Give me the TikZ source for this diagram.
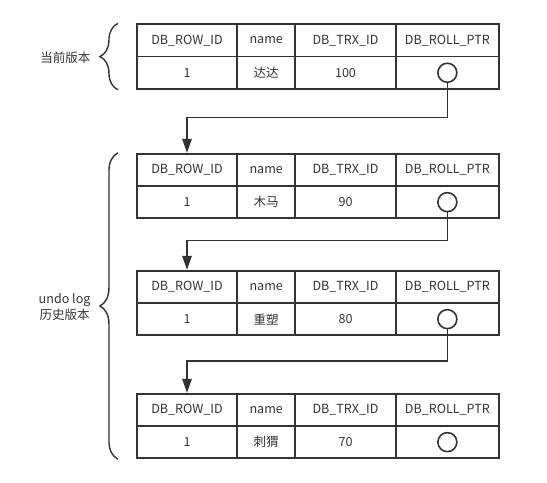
\documentclass[tikz,border=0pt]{standalone}
\usepackage{fontspec}
\setmainfont{Noto Sans CJK SC}
\usetikzlibrary{arrows.meta,decorations.pathreplacing}
\definecolor{ink}{HTML}{333333}
\newcommand{\dbtab}[4]{%
  \node (#11) at (187,#2+16.15) [cell, minimum width=100.3bp] {DB\_ROW\_ID};
  \node (#12) at (266.2,#2+16.15) [cell, minimum width=58.3bp] {name};
  \node (#13) at (345.5,#2+16.15) [cell, minimum width=100.4bp] {DB\_TRX\_ID};
  \node (#14) at (447.35,#2+16.15) [cell, minimum width=103.3bp] {DB\_ROLL\_PTR};
  \node (#15) at (187,#2+48.45) [cell, minimum width=100.3bp] {1};
  \node (#16) at (266.2,#2+48.45) [cell, minimum width=58.3bp] {#3};
  \node (#17) at (345.5,#2+48.45) [cell, minimum width=100.4bp] {#4};
  \node (#18) at (447.35,#2+48.45) [cell, minimum width=103.3bp] {};
  \node (#1P) at (#18) [ptr] {};
}
\tikzset{
  cell/.style={draw=ink, line width=1.8bp, minimum height=32.3bp, inner sep=0pt, text=ink, font=\fontsize{12.6}{14}\selectfont},
  ptr/.style={draw=ink, line width=1.6bp, circle, minimum size=19bp, inner sep=0pt},
  link/.style={draw=ink, line width=1.4bp, -{Triangle[length=14bp,width=9.5bp]}},
  vbrace/.style={draw=ink, line width=1.4bp, decorate, decoration={brace, amplitude=18bp}},
  tag/.style={anchor=east, align=center, text=ink, font=\fontsize{12.6}{16.5}\selectfont}
}
\begin{document}
\begin{tikzpicture}[x=1bp,y=-1bp]
\useasboundingbox (0,0) rectangle (547,483);

\dbtab{A}{24.3}{达达}{100}
\dbtab{B}{153.7}{木马}{90}
\dbtab{C}{270.7}{重塑}{80}
\dbtab{D}{393.7}{刺猬}{70}

\coordinate (K1) at (0,117.7);
\coordinate (K2) at (0,240.7);
\coordinate (K3) at (0,361);

\draw [link] (AP.south) -- (AP.south |- K1) -| (B1.north);
\draw [link] (BP.south) -- (BP.south |- K2) -| (C1.north);
\draw [link] (CP.south) -- (CP.south |- K3) -| (D1.north);

\draw [vbrace] ([xshift=-18bp]A5.south west) -- ([xshift=-18bp]A1.north west);
\draw [vbrace] ([xshift=-18bp]D5.south west) -- ([xshift=-18bp]B1.north west);

\node (V1) at (94,58) [tag] {当前版本};
\node (V2) at (94,307) [tag] {undo log\\历史版本};

\end{tikzpicture}
\end{document}
